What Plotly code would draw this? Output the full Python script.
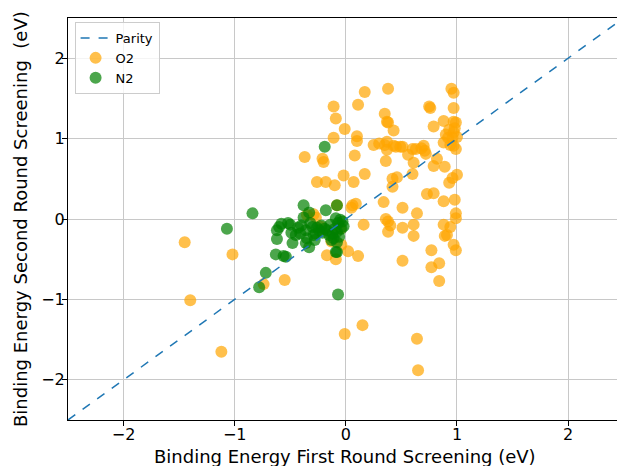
import plotly.graph_objects as go

# O2 points (first round, second round) in eV
o2_x = [-1.45, -1.40, -1.02, -1.12, -0.74, -0.55, -0.01, 0.15, 0.64, 0.65,
        0.16, 0.11, -0.17, -0.09, -0.04, 0.06, 0.09, -0.29, -0.26, -0.18,
        -0.10, 0.07, -0.37, -0.21, -0.20, -0.11, -0.09, -0.11, -0.01, 0.08,
        0.10, 0.10, 0.11, 0.17, 0.17, 0.38, 0.35, 0.37, 0.38, 0.43,
        0.35, 0.37, 0.37, 0.43, 0.49, 0.51, 0.36, 0.46, 0.42, 0.42,
        0.60, 0.63, 0.60, 0.61, 0.70, 0.71, 0.72, 0.79, 0.75, 0.76,
        0.79, 0.88, 0.88, 0.89, 0.93, 0.95, 0.97, 0.97, 0.97, 0.99,
        0.93, 0.97, 0.98, 0.92, 0.96, 1.00, 0.94, 0.97, 0.99, 1.00,
        0.96, 0.34, 0.36, 0.38, 0.40, 0.38, 0.51, 0.51, 0.61, 0.61,
        0.64, 0.51, 0.73, 0.79, 0.88, 0.98, 0.99, 0.99, 0.88, 0.94,
        0.91, 0.89, 0.77, 0.77, 0.84, 0.84, 0.97, 0.99, -0.02, -0.08,
        -0.13, 0.02, -0.05, -0.27, -0.22, 0.05, -0.35, 0.30, 0.45, 0.56,
        0.68, 0.82, 0.90, 0.25]
o2_y = [-0.29, -1.01, -0.44, -1.65, -0.81, -0.76, -1.43, -1.32, -1.49, -1.88,
        -0.07, -0.46, -0.45, -0.50, -0.32, 0.17, 0.19, 0.06, 0.46, 0.46,
        0.42, 0.46, 0.77, 0.75, 0.71, 1.40, 1.25, 1.01, 1.12, 0.79,
        1.03, 0.97, 1.42, 1.58, 0.56, 1.62, 1.31, 1.21, 1.20, 1.10,
        0.92, 0.96, 0.86, 0.91, 0.90, 0.90, 0.72, 0.52, 0.50, 0.40,
        0.87, 0.87, 0.56, 0.70, 0.91, 0.85, 0.81, 0.66, 1.40, 1.38,
        1.15, 1.22, 0.95, 0.65, 0.45, 1.62, 1.57, 1.38, 1.21, 1.20,
        1.11, 1.08, 1.13, 1.01, 1.01, 1.02, 0.92, 0.91, 0.87, 0.55,
        0.51, 0.21, 0.00, -0.03, -0.08, -0.16, 0.14, -0.11, -0.07, -0.21,
        0.07, -0.52, 0.31, 0.32, 0.22, 0.24, 0.07, 0.01, -0.07, -0.10,
        -0.20, -0.21, -0.39, -0.60, -0.55, -0.77, -0.32, -0.39, 0.54, 0.17,
        -0.28, -0.40, -0.12, 0.02, -0.10, 0.14, 0.05, 0.94, 0.90, 0.80,
        0.88, 0.75, 1.05, 0.92]

# N2 points
n2_x = [-0.78, -0.07, -1.07, -0.84, -0.72, -0.18, -0.38, -0.08, -0.19,
        -0.62, -0.62, -0.63, -0.58, -0.56, -0.54, -0.50, -0.49, -0.48, -0.43,
        -0.38, -0.36, -0.35, -0.33, -0.30, -0.29, -0.26, -0.21, -0.17, -0.14,
        -0.11, -0.09, -0.08, -0.07, -0.05, -0.04, -0.08, -0.08, -0.40, -0.32,
        -0.24, -0.12, -0.03, -0.45, -0.28, -0.15, -0.06, -0.36, -0.22, -0.10,
        -0.52, -0.60, -0.33, -0.27, -0.19, -0.02, -0.41, -0.13, -0.09]
n2_y = [-0.85, -0.94, -0.12, 0.07, -0.67, 0.11, 0.17, 0.17, 0.90,
        -0.14, -0.25, -0.44, -0.06, -0.46, -0.47, -0.07, -0.17, -0.30, -0.11,
        0.02, -0.14, -0.24, -0.35, -0.10, -0.20, -0.11, -0.17, -0.14, -0.07,
        -0.24, -0.41, -0.29, -0.05, -0.01, -0.12, -0.16, -0.41, -0.08, -0.05,
        -0.14, -0.18, -0.03, -0.20, -0.26, -0.20, -0.22, -0.30, -0.08, -0.12,
        -0.05, -0.10, 0.08, -0.18, -0.12, -0.09, -0.18, -0.26, 0.01]

parity = [-2.5, 2.5]
tick_vals = [-2, -1, 0, 1, 2]
x_title = "Binding Energy First Round Screening (eV)"
y_title = "Binding Energy Second Round Screening  (eV)"

W, H = 617, 466
ML, MT, MB = 68, 18, 46
PW, PH = W - ML, H - MT - MB

fig = go.Figure()
fig.add_trace(go.Scatter(
    x=o2_x, y=o2_y, mode="markers", name="O2",
    marker=dict(color="rgba(255,165,0,0.7)", size=12, line=dict(width=0)),
    legendrank=2))
fig.add_trace(go.Scatter(
    x=n2_x, y=n2_y, mode="markers", name="N2",
    marker=dict(color="rgba(0,128,0,0.7)", size=12, line=dict(width=0)),
    legendrank=3))
fig.add_trace(go.Scatter(
    x=parity, y=parity, mode="lines", name="Parity",
    line=dict(color="#1f77b4", width=1.5, dash="dash"),
    legendrank=1))

axis_common = dict(
    showgrid=True, gridcolor="#c8c8c8", gridwidth=1,
    zeroline=False, showline=True, linecolor="black", linewidth=1,
    ticks="outside", ticklen=5, tickcolor="black",
    tickfont=dict(family="DejaVu Sans", size=16, color="black"),
    tickvals=tick_vals, automargin=False,
)

fig.update_layout(
    width=W, height=H,
    margin=dict(l=ML, r=0, t=MT, b=MB),
    paper_bgcolor="white", plot_bgcolor="white",
    font=dict(family="DejaVu Sans", color="black"),
    showlegend=True,
    legend=dict(
        x=0.012, y=0.99, xanchor="left", yanchor="top",
        bgcolor="rgba(255,255,255,0.8)", bordercolor="#cccccc", borderwidth=1,
        font=dict(family="DejaVu Sans", size=13, color="black"),
    ),
    xaxis=dict(axis_common, range=[-2.5, 2.44], mirror=True, ticklabelstandoff=-5),
    yaxis=dict(axis_common, range=[-2.5, 2.5], mirror=False, ticklabelstandoff=-6),
    annotations=[
        dict(text=x_title, xref="paper", yref="paper", x=(345 - ML) / PW,
             y=-(456 - (MT + PH)) / PH, xanchor="center", yanchor="middle",
             showarrow=False, font=dict(family="DejaVu Sans", size=18, color="black")),
        dict(text=y_title, xref="paper", yref="paper", x=-(ML - 20) / PW,
             y=(MT + PH - 219) / PH, xanchor="center", yanchor="middle", textangle=-90,
             showarrow=False, font=dict(family="DejaVu Sans", size=18, color="black")),
    ],
)

# remove the page's default body margin so the figure fills the window exactly
fig.write_html(
    "out.html",
    config={"displayModeBar": False},
    post_script="document.body.style.margin='0';"
                "document.documentElement.style.overflow='hidden';",
)
